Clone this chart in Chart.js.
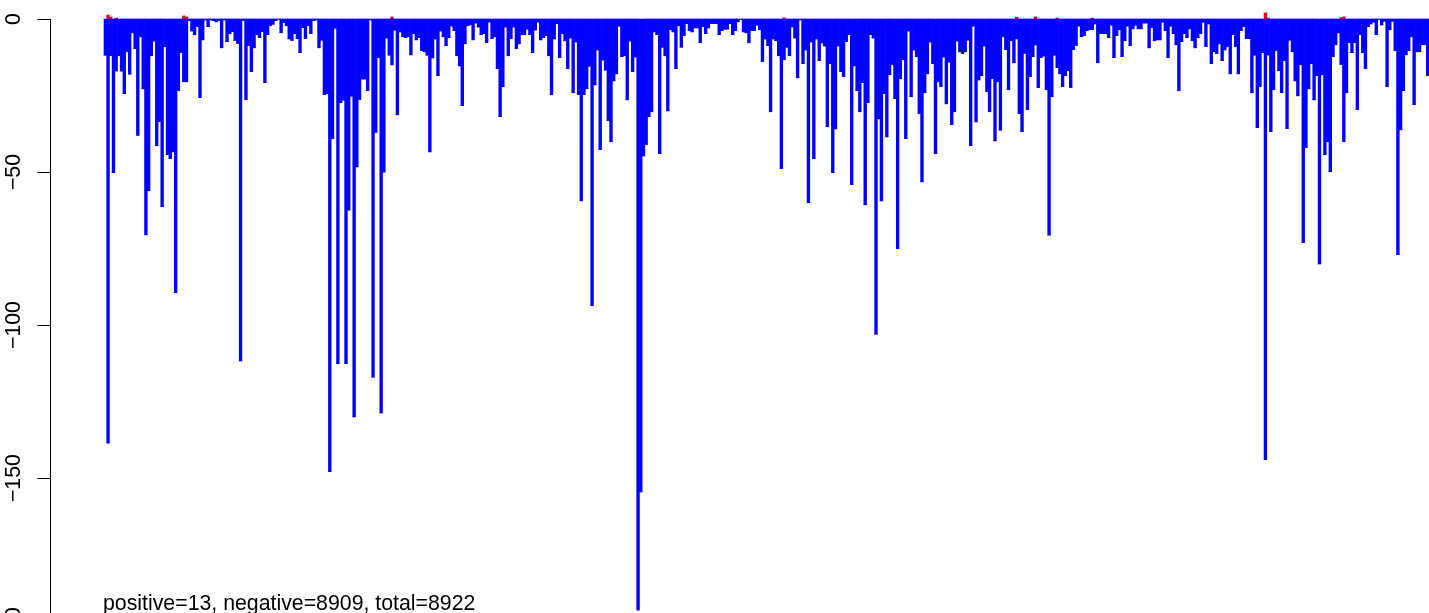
<!DOCTYPE html>
<html>
<head>
<meta charset="utf-8">
<script src="https://cdn.jsdelivr.net/npm/chart.js@4.4.1/dist/chart.umd.min.js"></script>
<style>
  html, body { margin: 0; padding: 0; background: #fff; overflow: hidden; }
  #wrap { position: relative; width: 1429px; height: 700px; }
</style>
</head>
<body>
<div id="wrap"><canvas id="chart" width="1429" height="700"></canvas></div>
<script>
// bar depths, left to right, in six stretches
const negA = [-11.8, -138.6, -12, -50.2, -17, -12, -17, -24.4, -10.7, -18, -4.5, -9.7, -38, -5.8, -22.8, -70.5, -56.1, -12, -7.2, -41.4,
  -33.5, -61.3, -9, -44.3, -45.6, -43.4, -89.4, -23.4, -11, -20.5, -20.5, -0.5, -3.9, -5.1, -2.5, -25.7, -6.8, -0.3, -2.5, -0.3,
  -0.5, -0.9, -0.5, -9.4, -0.3, -7.4, -4.8, -4.1, -7, -8, -111.7, -0.5, -26.3, -8.7, -17.2, -9.4, -5.1, -6.1, -4.1, -20.8,
  -5.1, -2.2, -1.7, -0.5, -0.1, -4.5, -1.2, -2.2, -6.5, -7, -4.8, -6.4, -11, -2.8, -6.4, -2.2, -4.8, -0.5, -0.3, -9.4,
  -6.9, -24.7, -24.4, -147.9];
const negB = [-39, -3, -112.6, -27.3, -26.5, -112.6, -62.4, -25.2, -130, -48.3, -26.3, -19.6, -19.6, -23.4, -0.3, -117, -37, -12.6, -128.7, -50,
  -6.2, -11.8, -15, -3.6, -31.3, -4.2, -5.8, -6.1, -5.8, -11.7, -4.8, -6.8, -6.1, -10.3, -10.7, -11.8, -43.4, -12.7, -6.5, -18.5,
  -3.9, -5.8, -8.7, -6.1, -2.3, -3.8, -12, -15.3, -28.3, -8.1, -2.2, -1.9, -6.8, -1.3, -2.6, -5.1, -4.8, -7.7, -1, -6.4,
  -5.8, -16.2, -31.9, -22.1, -2.6, -12, -6.4, -2.6, -9.7, -8.1, -5.1, -5.1, -3.3, -5.1, -11, -3.6, -1, -6.8, -6.1, -5.4,
  -12, -24.7, -6.5, -1.5, -12.6];
const negC = [-4.8, -7.1, -16.2, -6.2, -24.1, -7.5, -24.7, -59.4, -24.7, -22.8, -15.4, -93.7, -21.5, -10.1, -42.7, -13.4, -16.7, -33.2, -40.1, -20.2,
  -17.9, -2.3, -12.3, -12, -26.4, -7.2, -17.2, -12.4, -193.1, -154.5, -44.7, -41, -31.9, -30.3, -4.2, -5.1, -44, -9.2, -12, -30,
  -3.5, -4.2, -16.2, -2.2, -9.2, -5.4, -1.5, -3.8, -4.2, -2.9, -2.9, -7.7, -2.5, -4.8, -2.9, -1.5, -1.5, -1.5, -5.1, -3.8,
  -3.3, -3.3, -1.5, -5.1, -3.8, -0.9, -0.2, -4.2, -4.5, -7.7, -3.8, -3.8, -2, -3.5, -13.9, -6.5, -8.7, -30.3, -6.5, -7.1,
  -12, -48.9, -13.3, -9.2, -12];
const negD = [-2.6, -6.2, -19.2, -0.3, -14.6, -10.1, -60, -7.5, -45.6, -6.5, -13.6, -7.8, -8.8, -35.2, -14.6, -50.2, -35.9, -8.8, -17.2, -18.8,
  -7.4, -5.1, -54.1, -15.3, -23.4, -30.3, -20.8, -60.7, -27.3, -5.1, -6.2, -103, -32.6, -59.4, -24.4, -38.5, -18.2, -14.9, -26, -75,
  -19.5, -13.3, -39.1, -3.9, -25.4, -10.1, -12.3, -30.9, -53.2, -24.1, -17.9, -7.5, -14.6, -44, -20.5, -22.1, -12.4, -27.7, -14.1, -34.5,
  -30.3, -7.2, -10.7, -11.3, -10.7, -6.9, -41.4, -2.3, -33.6, -19.9, -18.5, -8.8, -23.7, -30.3, -19.5, -39.8, -20.5, -36.3, -5.8, -10,
  -23.1, -7.1, -14.3, -6.5, -30.9];
const negE = [-36.8, -11.2, -29.6, -18.8, -12.3, -8.5, -22.4, -12.6, -12.1, -23.1, -70.6, -25.4, -11.8, -15.9, -17.9, -22.1, -18.5, -16.9, -22.4, -10,
  -8.7, -2.3, -5.8, -5.4, -3.8, -3.5, -3.5, -1.6, -14.3, -4.8, -4.8, -4.8, -6.1, -2, -12.6, -5.4, -3.5, -12.3, -7.1, -2.3,
  -8.7, -3.2, -2, -3.2, -3.2, -1.3, -1.3, -9.4, -2.8, -7.1, -6.8, -6.8, -1, -3.8, -12.6, -2.3, -4.8, -8.4, -23.4, -7.4,
  -4.8, -6.1, -3.2, -7.1, -9.4, -6.1, -4.8, -1, -9, -1.6, -14.6, -10.7, -11.3, -8.1, -13.6, -10.1, -9, -17.9, -5.1, -9,
  -17.9, -3.8, -2.5, -6.4, -6.4];
const negF = [-24.1, -11.8, -35.5, -22.1, -11, -144, -11.8, -36.8, -23.1, -10.3, -16.9, -24.1, -13.6, -35.8, -6.9, -10.7, -20.2, -25.1, -14.9, -73,
  -42, -22.8, -14.6, -26.4, -18.5, -80, -18.2, -44.3, -40.1, -49.9, -12.3, -8.4, -4.5, -14.9, -40.1, -24.1, -7.7, -11, -7.7, -29.6,
  -5.1, -11, -16.2, -2.5, -1.6, -1, -5.1, -0.2, -1.9, -0.7, -22.1, -3.5, -0.7, -10.3, -77, -36.2, -23.4, -11.7, -10.3, -5.8,
  -28, -10.7, -10.7, -8.4, -8.4, -18.5];

// the few positive (red) bars: which bar and how high
const posIndex = [1, 2, 4, 29, 30, 106, 251, 337, 344, 352, 365, 429, 430, 457, 458];
const posValue = [1.3, 0.65, 0.3, 1.0, 0.65, 0.65, 0.4, 0.6, 0.7, 0.3, 0.3, 2.0, 0.3, 0.5, 0.7];

const yTicks = [0, -50, -100, -150, -200];
const yTickLabels = ['0', '\u221250', '\u2212100', '\u2212150', '\u2212200'];
const caption = 'positive=13, negative=8909, total=8922';

const negative = negA.concat(negB, negC, negD, negE, negF);
const positive = negative.map(() => 0);
posIndex.forEach((idx, k) => { positive[idx] = posValue[k]; });
const labels = negative.map((_, i) => i + 1);

// R style left axis + caption
const rAxis = {
  id: 'rAxis',
  afterDraw(chart) {
    const ctx = chart.ctx;
    const y = chart.scales.y;
    ctx.save();
    ctx.strokeStyle = '#000';
    ctx.lineWidth = 1;
    ctx.beginPath();
    ctx.moveTo(50.5, Math.round(y.getPixelForValue(yTicks[0])) + 0.5);
    ctx.lineTo(50.5, Math.round(y.getPixelForValue(yTicks[yTicks.length - 1])) + 0.5);
    yTicks.forEach(v => {
      const py = Math.round(y.getPixelForValue(v)) + 0.5;
      ctx.moveTo(37.5, py);
      ctx.lineTo(51, py);
    });
    ctx.stroke();

    ctx.fillStyle = '#000';
    ctx.font = '21.3px "Liberation Sans", Arial, sans-serif';
    ctx.textAlign = 'center';
    ctx.textBaseline = 'alphabetic';
    yTicks.forEach((v, k) => {
      ctx.save();
      ctx.translate(20, y.getPixelForValue(v));
      ctx.rotate(-Math.PI / 2);
      ctx.fillText(yTickLabels[k], 0, 0);
      ctx.restore();
    });

    ctx.textAlign = 'left';
    ctx.fillText(caption, 103, 610);
    ctx.restore();
  }
};

new Chart(document.getElementById('chart').getContext('2d'), {
  type: 'bar',
  data: {
    labels: labels,
    datasets: [{
      label: 'negative',
      data: negative,
      backgroundColor: '#0000ff',
      borderWidth: 0,
      barPercentage: 1,
      categoryPercentage: 1,
      clip: false
    }, {
      label: 'positive',
      data: positive,
      backgroundColor: '#ff0000',
      borderWidth: 0,
      barPercentage: 1,
      categoryPercentage: 1,
      clip: false
    }]
  },
  options: {
    responsive: false,
    animation: false,
    layout: { padding: { left: 104, top: 19, right: 0, bottom: 0 } },
    plugins: {
      legend: { display: false },
      tooltip: { enabled: false }
    },
    scales: {
      x: { display: false, stacked: true },
      y: { display: false, stacked: true, min: -222.5, max: 0 }
    }
  },
  plugins: [rAxis]
});
</script>
</body>
</html>
